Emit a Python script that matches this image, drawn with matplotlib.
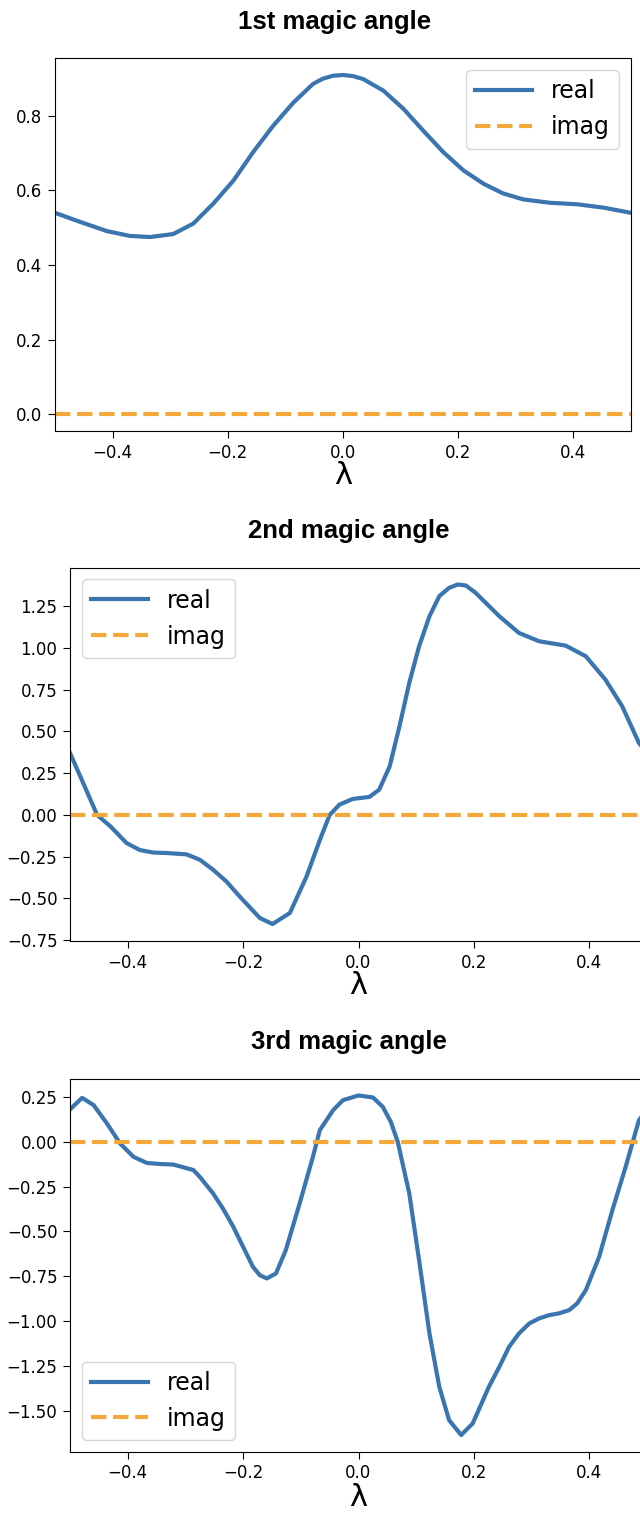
import numpy as np
import matplotlib
matplotlib.use('Agg')
import matplotlib.pyplot as plt

# lambda grid and real parts (imag is zero everywhere)
lam1 = [-0.5, -0.457, -0.410, -0.370, -0.335, -0.295, -0.260, -0.225, -0.190,
        -0.156, -0.121, -0.086, -0.052, -0.035, -0.017, 0.0, 0.017, 0.035, 0.070,
        0.105, 0.139, 0.174, 0.209, 0.244, 0.278, 0.313, 0.359, 0.406, 0.452, 0.5]
real1 = [0.540, 0.516, 0.491, 0.478, 0.475, 0.483, 0.511, 0.565, 0.627,
         0.703, 0.774, 0.836, 0.886, 0.900, 0.908, 0.910, 0.907, 0.899, 0.868,
         0.819, 0.761, 0.703, 0.654, 0.618, 0.592, 0.576, 0.567, 0.563, 0.554, 0.540]

lam2 = [-0.5, -0.477, -0.453, -0.430, -0.402, -0.379, -0.356, -0.332, -0.298,
        -0.275, -0.252, -0.229, -0.206, -0.171, -0.149, -0.119, -0.090, -0.067,
        -0.050, -0.033, -0.010, 0.019, 0.036, 0.054, 0.071, 0.088, 0.105, 0.123,
        0.140, 0.157, 0.172, 0.186, 0.203, 0.244, 0.278, 0.313, 0.359, 0.394,
        0.428, 0.457, 0.486, 0.5]
real2 = [0.371, 0.190, 0.0, -0.068, -0.168, -0.210, -0.225, -0.228, -0.236,
         -0.268, -0.328, -0.398, -0.488, -0.617, -0.653, -0.587, -0.368, -0.150,
         0.0, 0.062, 0.096, 0.108, 0.152, 0.291, 0.531, 0.791, 1.010, 1.190,
         1.310, 1.360, 1.380, 1.374, 1.330, 1.190, 1.090, 1.040, 1.014, 0.950,
         0.810, 0.651, 0.431, 0.371]

lam3 = [-0.5, -0.479, -0.459, -0.436, -0.413, -0.390, -0.367, -0.344, -0.321,
        -0.286, -0.275, -0.252, -0.235, -0.217, -0.200, -0.183, -0.171, -0.159,
        -0.143, -0.126, -0.102, -0.079, -0.067, -0.044, -0.027, 0.0, 0.025,
        0.042, 0.056, 0.068, 0.088, 0.105, 0.123, 0.140, 0.157, 0.178, 0.198,
        0.226, 0.244, 0.261, 0.278, 0.296, 0.313, 0.330, 0.347, 0.365, 0.379,
        0.394, 0.417, 0.440, 0.463, 0.486, 0.5]
real3 = [0.180, 0.245, 0.204, 0.102, -0.010, -0.084, -0.118, -0.124, -0.127,
         -0.158, -0.196, -0.288, -0.372, -0.474, -0.586, -0.697, -0.744, -0.762,
         -0.734, -0.604, -0.344, -0.084, 0.065, 0.176, 0.232, 0.258, 0.247,
         0.195, 0.111, 0.0, -0.288, -0.660, -1.069, -1.366, -1.552, -1.635,
         -1.570, -1.366, -1.255, -1.143, -1.069, -1.013, -0.985, -0.967, -0.957,
         -0.939, -0.901, -0.827, -0.642, -0.381, -0.140, 0.120, 0.180]

titles = ["1st magic angle", "2nd magic angle", "3rd magic angle"]
legend_loc = ["upper right", "upper left", "lower left"]

blue = '#3a75b0'
orange = '#f5a83a'

W, H = 640, 1514
fig = plt.figure(figsize=(W / 100, H / 100), dpi=100)

# axes boxes in pixels: left, top, width, height
boxes = [(55, 58, 576, 373), (70, 567.5, 577, 373.5), (70, 1078.5, 577, 373.5)]
title_pos = [(335, 29.5), (349, 537.5), (349, 1048.5)]
data = [(lam1, real1), (lam2, real2), (lam3, real3)]

for i in range(3):
    l, t, w, h = boxes[i]
    ax = fig.add_axes([l / W, 1 - (t + h) / H, w / W, h / H])
    lam, re = data[i]
    ax.plot(lam, re, color=blue, lw=3, label='real')
    ax.plot(lam, [0.0] * len(lam), '--', color=orange, lw=3, label='imag')
    ax.set_xlim(-0.5, 0.5)
    ax.tick_params(labelsize=12, length=5, pad=4)
    ax.set_xlabel('λ', fontsize=22, labelpad=0)
    ax.legend(loc=legend_loc[i], fontsize=17, handlelength=2.4)
    tx, ty = title_pos[i]
    fig.text(tx / W, 1 - ty / H, titles[i], ha='center', va='baseline',
             fontsize=18.5, fontweight='bold', family='Liberation Sans')

plt.savefig('out.png', dpi=100)
